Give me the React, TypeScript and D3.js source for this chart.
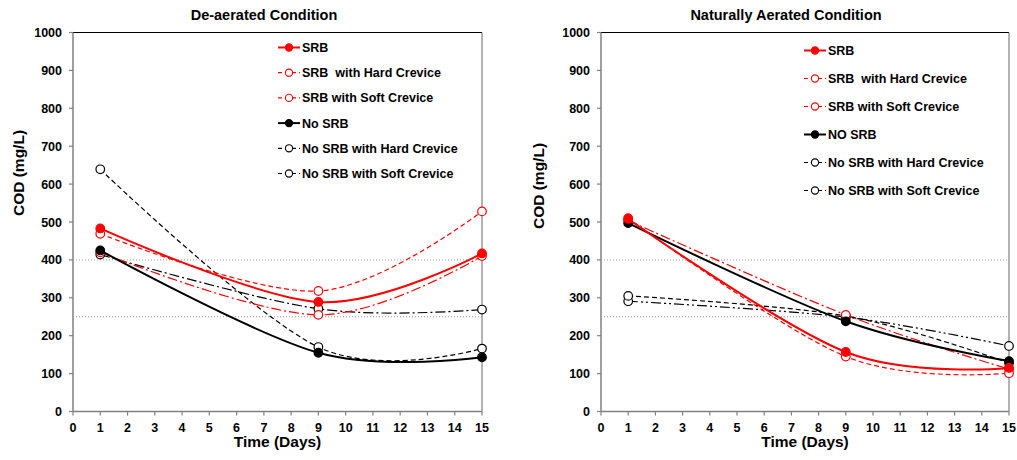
import React from "react";
import * as d3 from "d3";

// Sampling days
const days = [1, 9, 15];

// COD (mg/L) – de-aerated condition
const deSRB = [483, 289, 417];
const deSRBHard = [469, 318, 528];
const deSRBSoft = [420, 255, 410];
const deNoSRB = [425, 155, 143];
const deNoSRBHard = [639, 170, 166];
const deNoSRBSoft = [414, 271, 269];

// COD (mg/L) – naturally aerated condition
const naSRB = [508, 157, 115];
const naSRBHard = [510, 145, 101];
const naSRBSoft = [504, 255, 112];
const naNoSRB = [497, 238, 133];
const naNoSRBHard = [305, 252, 128];
const naNoSRBSoft = [291, 249, 173];

const leftLabels = [
  "SRB",
  "SRB  with Hard Crevice",
  "SRB with Soft Crevice",
  "No SRB",
  "No SRB with Hard Crevice",
  "No SRB with Soft Crevice",
];
const rightLabels = [
  "SRB",
  "SRB  with Hard Crevice",
  "SRB with Soft Crevice",
  "NO SRB",
  "No SRB with Hard Crevice",
  "No SRB with Soft Crevice",
];

const xTicks = d3.range(0, 16);
const yTicks = d3.range(0, 1001, 100);
const refLines = [400, 250];

type Style = { color: string; width: number; dash: string | null; filled: boolean };

const leftStyles: Style[] = [
  { color: "#ff0000", width: 2, dash: null, filled: true },
  { color: "#ff0000", width: 1.2, dash: "5,3", filled: false },
  { color: "#ff0000", width: 1.2, dash: "10,3,2,3", filled: false },
  { color: "#000000", width: 2, dash: null, filled: true },
  { color: "#000000", width: 1.2, dash: "5,3", filled: false },
  { color: "#000000", width: 1.2, dash: "10,3,2,3", filled: false },
];
const rightStyles: Style[] = [
  { color: "#ff0000", width: 2, dash: null, filled: true },
  { color: "#ff0000", width: 1.2, dash: "5,3", filled: false },
  { color: "#ff0000", width: 1.2, dash: "10,3,2,3", filled: false },
  { color: "#000000", width: 2, dash: null, filled: true },
  { color: "#000000", width: 1.2, dash: "5,3", filled: false },
  { color: "#000000", width: 1.2, dash: "10,3,2,3,2,3", filled: false },
];

const FONT = "'Liberation Sans', Arial, sans-serif";

type PanelProps = {
  title: string;
  titleX: number;
  left: number;
  right: number;
  yTitleX: number;
  yTitleY: number;
  values: number[][];
  labels: string[];
  styles: Style[];
  legendX: number;
  legendY: number;
  legendStep: number;
};

function Panel(p: PanelProps) {
  const top = 32.5;
  const bottom = 411.5;
  const x = d3.scaleLinear().domain([0, 15]).range([p.left, p.right]);
  const y = d3.scaleLinear().domain([0, 1000]).range([bottom, top]);
  const line = d3
    .line<number>()
    .x((_, i) => x(days[i]))
    .y((v) => y(v))
    .curve(d3.curveCardinal.tension(0));
  const midX = (p.left + p.right) / 2;
  const drawOrder = [5, 4, 2, 1, 3, 0];

  return (
    <g fontFamily={FONT} fontWeight="bold">
      <text x={p.titleX} y={20} textAnchor="middle" fontSize={14.5}>
        {p.title}
      </text>
      {/* frame */}
      <line x1={p.left} x2={p.right} y1={top} y2={top} stroke="#000" strokeWidth={1} />
      <line x1={p.right} x2={p.right} y1={top} y2={bottom} stroke="#666" strokeWidth={1} />
      {refLines.map((v) => (
        <line
          key={v}
          x1={p.left}
          x2={p.right}
          y1={y(v)}
          y2={y(v)}
          stroke="#999"
          strokeWidth={1}
          strokeDasharray="1,2"
        />
      ))}
      {/* axes */}
      <line x1={p.left} x2={p.left} y1={top} y2={bottom} stroke="#808080" strokeWidth={1.5} />
      <line x1={p.left} x2={p.right} y1={bottom} y2={bottom} stroke="#808080" strokeWidth={1.5} />
      {yTicks.map((t) => (
        <g key={"y" + t}>
          <line x1={p.left - 4} x2={p.left} y1={y(t)} y2={y(t)} stroke="#808080" strokeWidth={1.2} />
          <text x={p.left - 11} y={y(t) + 4.5} textAnchor="end" fontSize={12.5}>
            {t}
          </text>
        </g>
      ))}
      {xTicks.map((t) => (
        <g key={"x" + t}>
          <line x1={x(t)} x2={x(t)} y1={bottom} y2={bottom + 4} stroke="#808080" strokeWidth={1.2} />
          <text x={x(t)} y={432} textAnchor="middle" fontSize={12.5}>
            {t}
          </text>
        </g>
      ))}
      <text x={midX} y={447} textAnchor="middle" fontSize={15.5}>
        Time (Days)
      </text>
      <text
        transform={`translate(${p.yTitleX},${p.yTitleY}) rotate(-90)`}
        textAnchor="middle"
        fontSize={15.5}
      >
        COD (mg/L)
      </text>
      {/* series */}
      {drawOrder.map((i) => {
        const s = p.styles[i];
        return (
          <g key={"s" + i}>
            <path
              d={line(p.values[i]) || ""}
              fill="none"
              stroke={s.color}
              strokeWidth={s.width}
              strokeDasharray={s.dash || undefined}
            />
            {p.values[i].map((v, j) => (
              <circle
                key={j}
                cx={x(days[j])}
                cy={y(v)}
                r={4.3}
                fill={s.filled ? s.color : "#fff"}
                stroke={s.color}
                strokeWidth={1.2}
              />
            ))}
          </g>
        );
      })}
      {/* legend */}
      {p.labels.map((lab, i) => {
        const s = p.styles[i];
        const ly = p.legendY + i * p.legendStep;
        return (
          <g key={"l" + i}>
            <line
              x1={p.legendX}
              x2={p.legendX + 22}
              y1={ly}
              y2={ly}
              stroke={s.color}
              strokeWidth={s.width}
              strokeDasharray={s.dash ? "4,3" : undefined}
            />
            <circle
              cx={p.legendX + 11}
              cy={ly}
              r={3.6}
              fill={s.filled ? s.color : "#fff"}
              stroke={s.color}
              strokeWidth={1.1}
            />
            <text x={p.legendX + 24} y={ly + 4.5} fontSize={12.5} style={{ whiteSpace: "pre" }}>
              {lab}
            </text>
          </g>
        );
      })}
    </g>
  );
}

export default function App() {
  return (
    <svg
      width={1017}
      height={460}
      style={{ position: "absolute", left: 0, top: 0, background: "#fff" }}
    >
      <rect width={1017} height={460} fill="#fff" />
      <Panel
        title="De-aerated Condition"
        titleX={264}
        left={73}
        right={482}
        yTitleX={24}
        yTitleY={173}
        values={[deSRB, deSRBHard, deSRBSoft, deNoSRB, deNoSRBHard, deNoSRBSoft]}
        labels={leftLabels}
        styles={leftStyles}
        legendX={278}
        legendY={47.5}
        legendStep={25.2}
      />
      <Panel
        title="Naturally Aerated Condition"
        titleX={786}
        left={601}
        right={1009}
        yTitleX={544}
        yTitleY={186}
        values={[naSRB, naSRBHard, naSRBSoft, naNoSRB, naNoSRBHard, naNoSRBSoft]}
        labels={rightLabels}
        styles={rightStyles}
        legendX={804}
        legendY={50.5}
        legendStep={28}
      />
    </svg>
  );
}
